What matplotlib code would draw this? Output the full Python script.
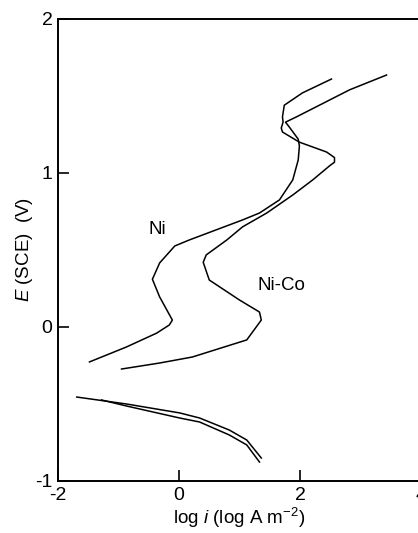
import matplotlib
matplotlib.use('Agg')
import matplotlib.pyplot as plt

plt.rcParams['font.family'] = ['Liberation Sans', 'DejaVu Sans']
plt.rcParams['mathtext.fontset'] = 'custom'
plt.rcParams['mathtext.rm'] = 'Liberation Sans'
plt.rcParams['mathtext.it'] = 'Liberation Sans:italic'

# anodic polarisation curve, pure Ni
ni_logi = [-1.48, -0.87, -0.37, -0.16, -0.11, -0.32, -0.44, -0.32, -0.07, 0.17,
           1.05, 1.33, 1.66, 1.88, 1.97, 1.99, 1.97, 1.82, 1.76, 1.94, 2.82, 3.43]
ni_E = [-0.227, -0.13, -0.04, 0.013, 0.045, 0.195, 0.31, 0.416, 0.526, 0.565,
        0.695, 0.74, 0.825, 0.955, 1.084, 1.175, 1.22, 1.30, 1.33, 1.364, 1.54, 1.636]

# anodic polarisation curve, Ni-Co alloy
nico_logi = [-0.95, -0.32, 0.22, 1.12, 1.36, 1.33, 1.0, 0.50, 0.40, 0.45, 0.79,
             1.05, 1.45, 1.88, 2.21, 2.50, 2.57, 2.57, 2.44, 1.99, 1.71, 1.69,
             1.72, 1.71, 1.74, 2.04, 2.52]
nico_E = [-0.273, -0.234, -0.195, -0.084, 0.045, 0.097, 0.175, 0.305, 0.42, 0.468,
          0.565, 0.65, 0.74, 0.857, 0.955, 1.05, 1.07, 1.10, 1.136, 1.20, 1.266,
          1.292, 1.33, 1.364, 1.44, 1.52, 1.61]

# cathodic branches (double line)
cat1_logi = [-1.69, -0.87, 0.01, 0.34, 0.83, 1.12, 1.36]
cat1_E = [-0.455, -0.50, -0.558, -0.591, -0.669, -0.734, -0.851]
cat2_logi = [-1.28, -0.87, 0.01, 0.34, 0.83, 1.12, 1.33]
cat2_E = [-0.474, -0.513, -0.591, -0.617, -0.701, -0.766, -0.877]

fig = plt.figure(figsize=(4.18, 5.33), dpi=100)
ax = fig.add_axes([0.1388, 0.0976, 0.8684, 0.8668])

lw = 1.1
ax.plot(ni_logi, ni_E, color='black', lw=lw)
ax.plot(nico_logi, nico_E, color='black', lw=lw)
ax.plot(cat1_logi, cat1_E, color='black', lw=lw)
ax.plot(cat2_logi, cat2_E, color='black', lw=lw)

ax.text(-0.36, 0.63, 'Ni', fontsize=13.5, ha='center', va='center')
ax.text(1.69, 0.27, 'Ni-Co', fontsize=13.5, ha='center', va='center')

ax.set_xlim(-2, 4)
ax.set_ylim(-1, 2)
ax.set_xticks([-2, 0, 2, 4])
ax.set_yticks([-1, 0, 1, 2])
ax.set_xticklabels(['-2', '0', '2', '4'])
ax.set_yticklabels(['-1', '0', '1', '2'])
ax.tick_params(direction='in', length=8, width=1.2, labelsize=14, pad=4)

for spine in ax.spines.values():
    spine.set_linewidth(1.4)

ax.set_xlabel(r'log $\it{i}$ (log A m$^{-2}$)', fontsize=13.5, labelpad=2)
ax.set_ylabel(r'$\it{E}$ (SCE)  (V)', fontsize=13.5)
ax.yaxis.set_label_coords(-0.063, 0.5)

fig.savefig('out.png', dpi=100)
